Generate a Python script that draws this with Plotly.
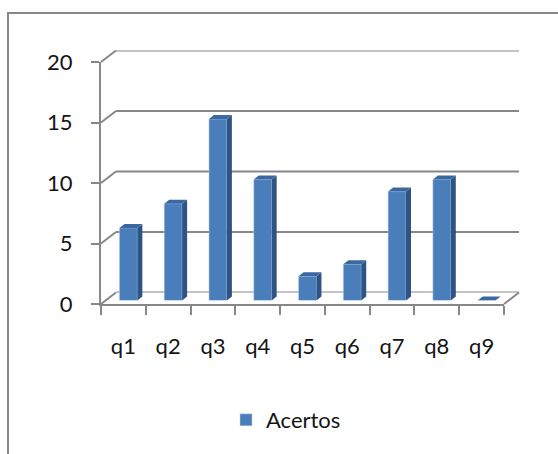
import plotly.graph_objects as go

# ---- data ----
categories = ["q1", "q2", "q3", "q4", "q5", "q6", "q7", "q8", "q9"]
acertos = [6, 8, 15, 10, 2, 3, 9, 10, 0]
y_ticks = [0, 5, 10, 15, 20]
series_name = "Acertos"

# ---- geometry (pixels in a 558x454 canvas) ----
W, H = 558, 454
def fx(p): return p / W
def fy(p): return 1 - p / H

FX0, FX1 = 101, 504          # front plane left/right
FY0, FY1 = 304, 62           # front plane value 0 / value 20
DX, DY = 15, -11.5           # depth of back wall
BX, BY = 5, -3.5             # shift of bar front faces
SX, SY = 5, -4               # bar depth (side/top faces)
YMAX = 20
n = len(categories)
cat_px = (FX1 - FX0) / n
unit_px = (FY0 - FY1) / YMAX
side_dx = SX / cat_px
side_dy = -SY / unit_px
BAR_W = 0.4

GRAY = "#878787"
FONT = dict(family="Lato", size=22, color="#141414")
FRONT_C = "#4A7EBB"
SIDE_C = "#2E5485"
TOP_C = "#3C68A2"

pos = list(range(n))

fig = go.Figure()

# front faces
fig.add_trace(go.Bar(
    x=pos, y=acertos, width=BAR_W, name=series_name,
    marker=dict(color=FRONT_C, line=dict(color="rgba(190,208,232,0.9)", width=0.6)),
    xaxis="x3", yaxis="y3", showlegend=True,
))

# side faces and top faces derived from the data
sx, sy, tx, ty = [], [], [], []
for p, v in zip(pos, acertos):
    r = p + BAR_W / 2
    l = p - BAR_W / 2
    sx += [r, r + side_dx, r + side_dx, r, r, None]
    sy += [0, side_dy, v + side_dy, v, 0, None]
    tx += [l, r, r + side_dx, l + side_dx, l, None]
    ty += [v, v, v + side_dy, v + side_dy, v, None]

fig.add_trace(go.Scatter(x=sx, y=sy, mode="lines", fill="toself", fillcolor=SIDE_C,
                         line=dict(width=0, color=SIDE_C), xaxis="x3", yaxis="y3",
                         showlegend=False, hoverinfo="skip"))
fig.add_trace(go.Scatter(x=tx, y=ty, mode="lines", fill="toself", fillcolor=TOP_C,
                         line=dict(width=0, color=TOP_C), xaxis="x3", yaxis="y3",
                         showlegend=False, hoverinfo="skip"))
# empty helper traces so the front and back subplots exist
fig.add_trace(go.Scatter(x=[], y=[], xaxis="x", yaxis="y", showlegend=False))
fig.add_trace(go.Scatter(x=[], y=[], xaxis="x2", yaxis="y2", showlegend=False))

shapes = []
# outer frame
shapes.append(dict(type="rect", xref="paper", yref="paper",
                   x0=fx(8), x1=fx(575), y0=fy(470), y1=fy(13),
                   line=dict(color=GRAY, width=2), fillcolor="rgba(0,0,0,0)"))
# back wall gridlines (on the back-wall axes)
for t in y_ticks:
    shapes.append(dict(type="line", xref="x2 domain", yref="y2",
                       x0=0, x1=1, y0=t, y1=t, layer="below",
                       line=dict(color=GRAY, width=2)))
# connectors from front axis ticks to back wall gridlines
for t in y_ticks:
    yf = FY0 - t * unit_px
    shapes.append(dict(type="line", xref="paper", yref="paper",
                       x0=fx(FX0), y0=fy(yf), x1=fx(FX0 + DX), y1=fy(yf + DY),
                       line=dict(color=GRAY, width=2)))
# right floor edge
shapes.append(dict(type="line", xref="paper", yref="paper",
                   x0=fx(FX1), y0=fy(FY0), x1=fx(FX1 + DX), y1=fy(FY0 + DY),
                   line=dict(color=GRAY, width=2)))

boundaries = [i - 0.5 for i in range(n + 1)]

fig.update_layout(
    width=W, height=H,
    margin=dict(l=0, r=0, t=0, b=0, autoexpand=False),
    paper_bgcolor="white", plot_bgcolor="rgba(0,0,0,0)",
    font=FONT,
    shapes=shapes,
    xaxis=dict(domain=[fx(FX0), fx(FX1)], range=[-0.5, n - 0.5], anchor="y",
               tickvals=pos, ticktext=categories, ticks="",
               minor=dict(tickvals=boundaries, ticks="outside", ticklen=9,
                          tickwidth=2, tickcolor=GRAY, showgrid=False),
               showline=True, linecolor=GRAY, linewidth=2, showgrid=False,
               zeroline=False, tickfont=FONT, ticklabelstandoff=22,
               automargin=False, fixedrange=True),
    yaxis=dict(domain=[fy(FY0), fy(FY1)], range=[0, YMAX], anchor="x",
               tickvals=y_ticks, ticks="outside", ticklen=8, tickwidth=2, tickcolor=GRAY,
               showline=True, linecolor=GRAY, linewidth=2, showgrid=False,
               zeroline=False, tickfont=FONT, ticklabelstandoff=14,
               automargin=False, fixedrange=True),
    xaxis2=dict(domain=[fx(FX0 + DX), fx(FX1 + DX)], range=[-0.5, n - 0.5], anchor="y2",
                visible=False, automargin=False, fixedrange=True),
    yaxis2=dict(domain=[fy(FY0 + DY), fy(FY1 + DY)], range=[0, YMAX], anchor="x2",
                visible=False, automargin=False, fixedrange=True),
    xaxis3=dict(domain=[fx(FX0 + BX), fx(FX1 + BX)], range=[-0.5, n - 0.5], anchor="y3",
                visible=False, automargin=False, fixedrange=True),
    yaxis3=dict(domain=[fy(FY0 + BY), fy(FY1 + BY)], range=[0, YMAX], anchor="x3",
                visible=False, automargin=False, fixedrange=True),
    legend=dict(x=fx(226), y=fy(420), xanchor="left", yanchor="middle",
                orientation="h", font=FONT, bgcolor="rgba(0,0,0,0)"),
    showlegend=True,
)

fig.write_html("out.html")
